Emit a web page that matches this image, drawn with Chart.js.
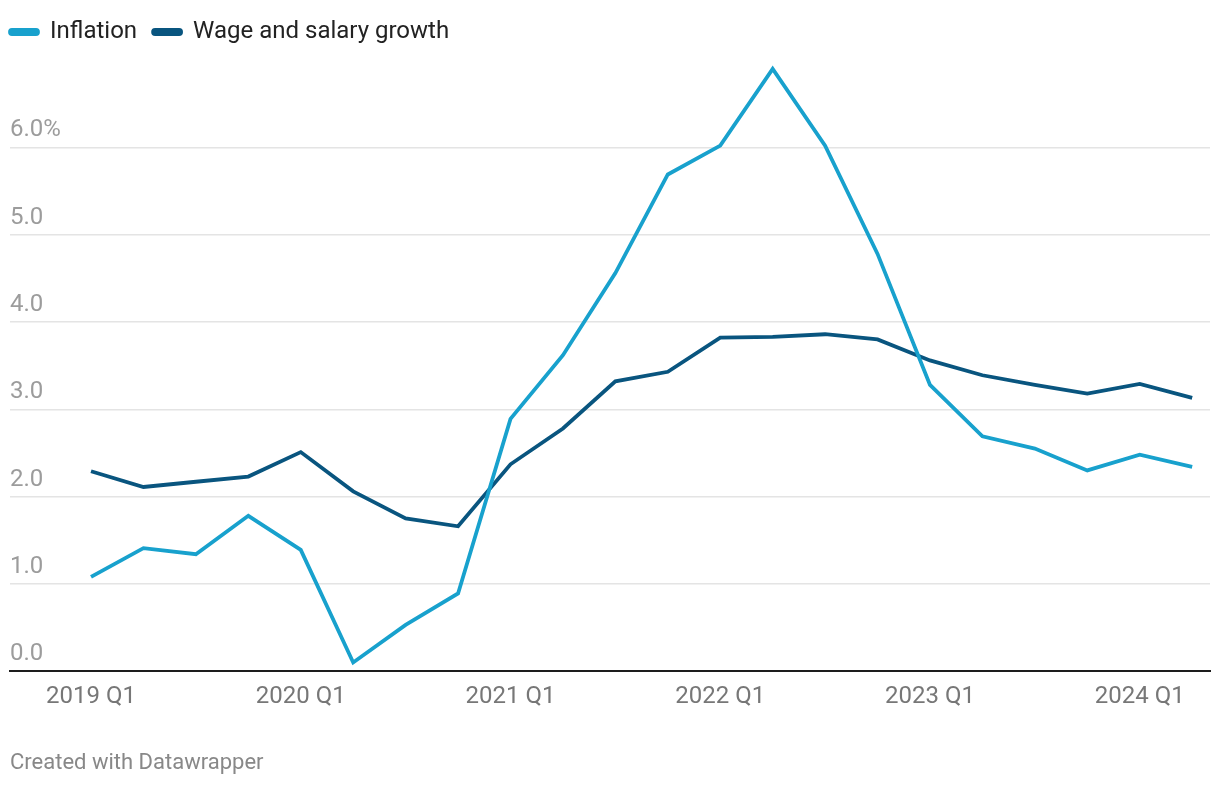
<!DOCTYPE html>
<html>
<head>
<meta charset="utf-8">
<script src="https://cdn.jsdelivr.net/npm/chart.js@4.4.1/dist/chart.umd.min.js"></script>
<style>
  html, body { margin: 0; padding: 0; background: #fff; }
  #wrap { position: relative; width: 1220px; height: 786px; }
  #credit {
    position: absolute; left: 10px; top: 749px;
    font: 22px/26px Roboto, sans-serif; color: #888;
  }
</style>
</head>
<body>
<div id="wrap">
  <canvas id="chart"></canvas>
  <div id="credit">Created with Datawrapper</div>
</div>
<script>
const quarters = [
  '2019 Q1', '2019 Q2', '2019 Q3', '2019 Q4',
  '2020 Q1', '2020 Q2', '2020 Q3', '2020 Q4',
  '2021 Q1', '2021 Q2', '2021 Q3', '2021 Q4',
  '2022 Q1', '2022 Q2', '2022 Q3', '2022 Q4',
  '2023 Q1', '2023 Q2', '2023 Q3', '2023 Q4',
  '2024 Q1', '2024 Q2'
];
const inflation = [1.08, 1.41, 1.34, 1.78, 1.39, 0.10, 0.53, 0.89, 2.89, 3.62, 4.56, 5.69,
  6.02, 6.90, 6.02, 4.78, 3.28, 2.69, 2.55, 2.30, 2.48, 2.34];
const wages = [2.29, 2.11, 2.17, 2.23, 2.51, 2.06, 1.75, 1.66, 2.37, 2.78, 3.32, 3.43,
  3.82, 3.83, 3.86, 3.80, 3.56, 3.39, 3.28, 3.18, 3.29, 3.13];
const xTicks = [0, 4, 8, 12, 16, 20];
const yTicks = [0, 1, 2, 3, 4, 5, 6];

const toPoints = arr => arr.map((v, i) => ({ x: i, y: v }));

Chart.defaults.font.family = 'Roboto, sans-serif';

new Chart(document.getElementById('chart'), {
  type: 'line',
  data: {
    datasets: [
      {
        label: 'Inflation',
        data: toPoints(inflation),
        borderColor: '#18a1cd',
        backgroundColor: '#18a1cd',
        borderWidth: 3.8,
        pointRadius: 0,
        tension: 0
      },
      {
        label: 'Wage and salary growth',
        data: toPoints(wages),
        borderColor: '#09557f',
        backgroundColor: '#09557f',
        borderWidth: 3.8,
        pointRadius: 0,
        tension: 0
      }
    ]
  },
  options: {
    responsive: true,
    maintainAspectRatio: false,
    animation: false,
    layout: { padding: { left: -6, right: 10, top: 4, bottom: 64 } },
    plugins: {
      legend: {
        align: 'start',
        labels: {
          color: '#222',
          font: { size: 24 },
          boxWidth: 28,
          boxHeight: 4,
          useBorderRadius: true,
          borderRadius: 2,
          padding: 16
        }
      },
      tooltip: { enabled: false }
    },
    scales: {
      x: {
        type: 'linear',
        min: -1.545,
        max: 21.34,
        afterBuildTicks: s => { s.ticks = xTicks.map(v => ({ value: v })); },
        ticks: {
          color: '#777',
          font: { size: 24 },
          padding: 11,
          maxRotation: 0,
          autoSkip: false,
          callback: v => quarters[v]
        },
        grid: { display: false, drawTicks: false },
        border: { display: true, color: '#1d1d1d', width: 2 }
      },
      y: {
        min: 0,
        max: 7.07,
        afterFit: s => { s.width = 16; },
        afterBuildTicks: s => { s.ticks = yTicks.map(v => ({ value: v })); },
        ticks: {
          mirror: true,
          padding: 0,
          labelOffset: -17,
          color: '#9c9c9c',
          font: { size: 24 },
          callback: v => v === 6 ? '6.0%' : v.toFixed(1)
        },
        grid: { color: '#e4e4e4', lineWidth: 1.5, drawTicks: false },
        border: { display: false }
      }
    }
  }
});
</script>
</body>
</html>
